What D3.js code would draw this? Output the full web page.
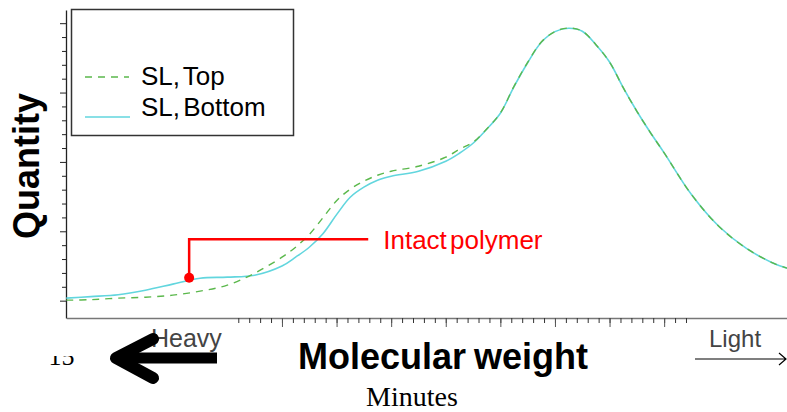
<!DOCTYPE html>
<html>
<head>
<meta charset="utf-8">
<script src="https://cdn.jsdelivr.net/npm/d3@7"></script>
<style>
  body { margin: 0; background: #fff; }
  svg { display: block; font-family: "Liberation Sans", Arial, sans-serif; }
</style>
</head>
<body>
<script>
"use strict";

// elution time (minutes) at which the two traces were read
const minutes = [15.05, 15.5, 16, 16.5, 17, 17.5, 18, 18.5, 19, 19.25, 19.5, 19.75,
  20, 20.25, 20.5, 20.75, 21, 21.5, 22, 22.25, 22.5, 22.75, 23, 23.25, 23.5, 23.75,
  24, 24.25, 24.5, 24.75, 25, 25.25, 25.5, 25.75, 26, 26.5, 27, 27.5, 28, 28.25];

const slBottom = [0.036, 0.058, 0.086, 0.151, 0.238, 0.324, 0.339, 0.367, 0.5, 0.627, 0.77, 0.965,
  1.24, 1.491, 1.636, 1.736, 1.794, 1.866, 2.01, 2.125, 2.269, 2.471, 2.702, 3.085, 3.43, 3.725,
  3.878, 3.926, 3.883, 3.69, 3.44, 3.07, 2.73, 2.42, 2.13, 1.53, 1.073, 0.757, 0.54, 0.468];

const slTop = [0.007, 0.014, 0.036, 0.05, 0.079, 0.137, 0.223, 0.396, 0.627, 0.771, 0.954, 1.195,
  1.44, 1.607, 1.722, 1.808, 1.866, 1.938, 2.068, 2.183, 2.284, 2.475, 2.705, 3.09, 3.435, 3.728,
  3.88, 3.93, 3.885, 3.69, 3.44, 3.07, 2.73, 2.42, 2.13, 1.53, 1.073, 0.757, 0.54, 0.468];

const seriesNames = ["SL, Top", "SL, Bottom"];
const annotation = { minute: 17.3, value: 0.33, labelValue: 0.886, labelMinute: 20.58, text: "Intact polymer" };

const W = 787, H = 412;
const svg = d3.select("body").append("svg").attr("width", W).attr("height", H);

const x = d3.scaleLinear().domain([15.05, 28.25]).range([66.3, 787]);
const y = d3.scaleLinear().domain([-0.25, 4.19]).range([318, 10]);

// y axis: minor ticks every 0.2, a little longer on whole units
const yMinor = d3.range(0, 4.01, 0.2).filter(v => Math.abs(v - Math.round(v)) > 0.01);
svg.append("g")
  .attr("transform", "translate(66,0)")
  .call(d3.axisLeft(y).tickValues(yMinor).tickSize(4).tickSizeOuter(0).tickFormat(""))
  .call(g => g.selectAll("line").attr("stroke", "#222"))
  .call(g => g.select(".domain").attr("stroke", "#222").attr("stroke-width", 1.3));
svg.append("g")
  .attr("transform", "translate(66,0)")
  .call(d3.axisLeft(y).tickValues([0, 1, 2, 3, 4]).tickSize(6).tickFormat(""))
  .call(g => g.selectAll("line").attr("stroke", "#222"))
  .call(g => g.select(".domain").remove());

// x axis
svg.append("g")
  .attr("transform", "translate(0,318)")
  .call(d3.axisBottom(x).tickValues(d3.range(18.2, 26.41, 0.2)).tickSize(5).tickSizeOuter(0).tickFormat(""))
  .call(g => g.selectAll("line").attr("stroke", "#333"))
  .call(g => g.select(".domain").attr("stroke", "#777").attr("stroke-width", 1.5));
svg.append("g")
  .attr("transform", "translate(0,318)")
  .call(d3.axisBottom(x).tickValues(d3.range(19, 26.1, 1)).tickSize(9).tickFormat(""))
  .call(g => g.selectAll("line").attr("stroke", "#555"))
  .call(g => g.select(".domain").remove());

// only the lower part of the "15" label shows below the arrow
svg.append("clipPath").attr("id", "cut15")
  .append("rect").attr("x", 30).attr("y", 356).attr("width", 60).attr("height", 30);
svg.append("text")
  .attr("clip-path", "url(#cut15)")
  .attr("x", x(15) - 2).attr("y", 365)
  .attr("text-anchor", "middle")
  .style("font-family", "'Liberation Serif', 'Times New Roman', serif")
  .style("font-size", "26px")
  .text("15");

const line = d3.line()
  .x((d, i) => x(minutes[i]))
  .y(d => y(d))
  .curve(d3.curveCatmullRom.alpha(0.5));

svg.append("path")
  .attr("d", line(slBottom))
  .attr("fill", "none")
  .attr("stroke", "#62d6de")
  .attr("stroke-width", 1.6);

svg.append("path")
  .attr("d", line(slTop))
  .attr("fill", "none")
  .attr("stroke", "#5bb84c")
  .attr("stroke-width", 1.4)
  .attr("stroke-dasharray", "7,6");

// annotation
const ax = x(annotation.minute), ay = y(annotation.value), ly = y(annotation.labelValue);
svg.append("path")
  .attr("d", `M${ax},${ay} V${ly} H${x(annotation.labelMinute)}`)
  .attr("fill", "none")
  .attr("stroke", "#ff0000")
  .attr("stroke-width", 2.5);
svg.append("circle").attr("cx", ax).attr("cy", ay).attr("r", 5).attr("fill", "#ff0000");
svg.append("text")
  .attr("x", x(annotation.labelMinute) + 15).attr("y", 249)
  .attr("fill", "#ff0000")
  .style("font-size", "26px")
  .style("word-spacing", "-4px")
  .text(annotation.text);

// legend
const legend = svg.append("g");
legend.append("rect")
  .attr("x", 71.5).attr("y", 9.5).attr("width", 222).attr("height", 126)
  .attr("fill", "#fff").attr("stroke", "#333").attr("stroke-width", 1.5);
legend.append("line")
  .attr("x1", 85).attr("x2", 129).attr("y1", 77).attr("y2", 77)
  .attr("stroke", "#5bb84c").attr("stroke-width", 1.4).attr("stroke-dasharray", "7,6");
legend.append("line")
  .attr("x1", 85).attr("x2", 130).attr("y1", 117).attr("y2", 117)
  .attr("stroke", "#62d6de").attr("stroke-width", 1.6);
legend.selectAll("text.item")
  .data(seriesNames)
  .enter()
  .append("text")
    .attr("class", "item")
    .attr("x", 141)
    .attr("y", (d, i) => i === 0 ? 85 : 116)
    .style("font-size", "26px")
    .style("word-spacing", "-4px")
    .text(d => d);

// axis titles
svg.append("text")
  .attr("transform", "translate(39,166) rotate(-90)")
  .attr("text-anchor", "middle")
  .style("font-size", "36px")
  .style("font-weight", "bold")
  .text("Quantity");

svg.append("text")
  .attr("x", 443).attr("y", 369)
  .attr("text-anchor", "middle")
  .style("font-size", "36px")
  .style("font-weight", "bold")
  .style("word-spacing", "-2px")
  .text("Molecular weight");

svg.append("text")
  .attr("x", 412).attr("y", 406)
  .attr("text-anchor", "middle")
  .style("font-family", "'Liberation Serif', 'Times New Roman', serif")
  .style("font-size", "28px")
  .text("Minutes");

// heavy / light arrows
svg.append("text")
  .attr("x", 151).attr("y", 347)
  .attr("fill", "#444")
  .style("font-size", "25px")
  .text("Heavy");

svg.append("path")
  .attr("d", "M217,358 H122")
  .attr("stroke", "#000").attr("stroke-width", 11);
svg.append("path")
  .attr("d", "M153,339 L116,358 L153,378")
  .attr("fill", "none")
  .attr("stroke", "#000").attr("stroke-width", 12)
  .attr("stroke-linecap", "round").attr("stroke-linejoin", "round");

svg.append("text")
  .attr("x", 709).attr("y", 347)
  .attr("fill", "#444")
  .style("font-size", "24px")
  .text("Light");

svg.append("path")
  .attr("d", "M695,359 H786 M779,353 L786,359 L779,365")
  .attr("fill", "none")
  .attr("stroke", "#000").attr("stroke-width", 1.2);
</script>
</body>
</html>
